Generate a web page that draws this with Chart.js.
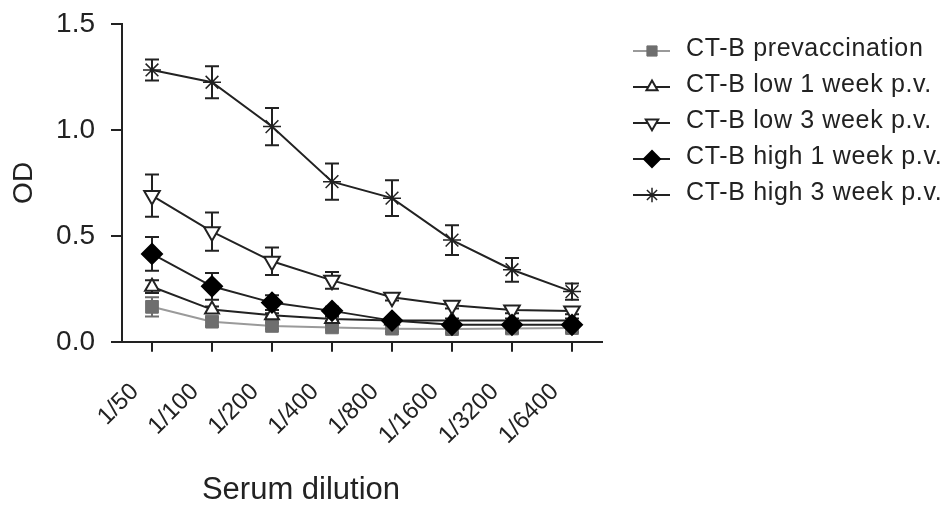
<!DOCTYPE html>
<html>
<head>
<meta charset="utf-8">
<script src="https://cdn.jsdelivr.net/npm/chart.js@4/dist/chart.umd.min.js"></script>
<style>
  body { margin: 0; background: #fff; }
  #wrap { width: 949px; height: 509px; }
</style>
</head>
<body>
<div id="wrap"><canvas id="myChart" width="949" height="509"></canvas></div>
<script>
const diluciones = ["1/50", "1/100", "1/200", "1/400", "1/800", "1/1600", "1/3200", "1/6400"];
const yTicks = [0, 0.5, 1.0, 1.5];

const prevac = [0.165, 0.095, 0.075, 0.068, 0.062, 0.060, 0.063, 0.065];
const prevacErr = [0.045, 0.02, 0.015, 0.01, 0.015, 0.02, 0.02, 0.02];
const low1 = [0.26, 0.152, 0.125, 0.108, 0.100, 0.100, 0.100, 0.100];
const low1Err = [0.03, 0.015, 0.01, 0.01, 0.01, 0.01, 0.01, 0.01];
const low3 = [0.69, 0.52, 0.38, 0.29, 0.21, 0.172, 0.15, 0.145];
const low3Err = [0.10, 0.09, 0.065, 0.04, 0.015, 0.015, 0.015, 0.015];
const high1 = [0.415, 0.262, 0.185, 0.146, 0.100, 0.080, 0.080, 0.080];
const high1Err = [0.08, 0.063, 0.035, 0.02, 0.015, 0.015, 0.015, 0.015];
const high3 = [1.283, 1.225, 1.016, 0.756, 0.678, 0.48, 0.34, 0.237];
const high3Err = [0.05, 0.076, 0.088, 0.085, 0.084, 0.07, 0.056, 0.038];

Chart.defaults.font.family = "'Liberation Sans', Arial, sans-serif";
Chart.defaults.color = "#222";

const ink = "#222";

function serie(label, data, err, estilo) {
    return Object.assign({
        label: label,
        data: data,
        err: err,
        tension: 0,
        borderWidth: 2,
        pointBorderWidth: 2,
        pointHoverRadius: 9
    }, estilo);
}

const datasets = [
    serie("CT-B prevaccination", prevac, prevacErr, {
        borderColor: "#9a9a9a", errColor: "#6e6e6e",
        pointStyle: "rect", pointRadius: 9,
        pointBackgroundColor: "#6e6e6e", pointBorderColor: "#6e6e6e", pointBorderWidth: 1,
        order: 5
    }),
    serie("CT-B low 1 week p.v.", low1, low1Err, {
        borderColor: ink, errColor: ink,
        pointStyle: "triangle", pointRadius: 8,
        pointBackgroundColor: "#fff", pointBorderColor: ink,
        order: 4
    }),
    serie("CT-B low 3 week p.v.", low3, low3Err, {
        borderColor: ink, errColor: ink,
        pointStyle: "triangle", pointRotation: 180, pointRadius: 9,
        pointBackgroundColor: "#fff", pointBorderColor: ink,
        order: 3
    }),
    serie("CT-B high 1 week p.v.", high1, high1Err, {
        borderColor: ink, errColor: ink,
        pointStyle: "rectRot", pointRadius: 10,
        pointBackgroundColor: "#000", pointBorderColor: "#000",
        order: 2
    }),
    serie("CT-B high 3 week p.v.", high3, high3Err, {
        borderColor: ink, errColor: ink,
        pointStyle: "star", pointRadius: 9,
        pointBackgroundColor: ink, pointBorderColor: ink, pointBorderWidth: 1.5,
        order: 1
    })
];

// barras de error con las escalas del grafico
const errorBars = {
    id: "errorBars",
    beforeDatasetsDraw(chart) {
        const ctx = chart.ctx;
        const x = chart.scales.x;
        const y = chart.scales.y;
        ctx.save();
        chart.data.datasets.forEach(ds => {
            ctx.strokeStyle = ds.errColor;
            ctx.lineWidth = 2;
            ds.data.forEach((v, i) => {
                const e = ds.err[i];
                const px = x.getPixelForValue(i);
                const top = y.getPixelForValue(v + e);
                const bot = y.getPixelForValue(v - e);
                ctx.beginPath();
                ctx.moveTo(px, top); ctx.lineTo(px, bot);
                ctx.moveTo(px - 7, top); ctx.lineTo(px + 7, top);
                ctx.moveTo(px - 7, bot); ctx.lineTo(px + 7, bot);
                ctx.stroke();
            });
        });
        ctx.restore();
    }
};

// leyenda a la derecha con linea y marcador
const leyenda = {
    id: "leyenda",
    afterDraw(chart) {
        const ctx = chart.ctx;
        const filas = [51, 87, 123, 159, 195];
        ctx.save();
        chart.data.datasets.forEach((ds, i) => {
            const yy = filas[i];
            ctx.strokeStyle = ds.borderColor;
            ctx.lineWidth = 2;
            ctx.beginPath();
            ctx.moveTo(633, yy); ctx.lineTo(670, yy);
            ctx.stroke();
            ctx.fillStyle = ds.pointBackgroundColor;
            ctx.strokeStyle = ds.pointBorderColor;
            ctx.lineWidth = ds.pointBorderWidth;
            Chart.helpers.drawPoint(ctx, {
                pointStyle: ds.pointStyle,
                radius: ds.pointRadius * 0.8,
                rotation: ds.pointRotation || 0,
                borderWidth: ds.pointBorderWidth
            }, 652, yy);
            ctx.fillStyle = ink;
            ctx.font = "25px 'Liberation Sans', Arial, sans-serif";
            ctx.letterSpacing = "0.65px";
            ctx.textBaseline = "alphabetic";
            ctx.textAlign = "left";
            ctx.fillText(ds.label, 686, yy + 5);
        });
        ctx.restore();
    }
};

const config = {
    type: "line",
    data: { labels: diluciones, datasets: datasets },
    plugins: [errorBars, leyenda],
    options: {
        responsive: false,
        animation: false,
        layout: { padding: { top: 24, right: 347, left: 0, bottom: 0 } },
        plugins: {
            legend: { display: false },
            tooltip: { enabled: false },
            title: {
                display: true,
                position: "bottom",
                text: "Serum dilution",
                color: ink,
                font: { size: 31, weight: "normal" },
                padding: { top: 0, bottom: 0 }
            }
        },
        scales: {
            x: {
                type: "category",
                offset: true,
                afterFit(scale) { scale.height = 130; },
                border: { color: ink, width: 2 },
                grid: { drawOnChartArea: false, offset: false, tickLength: 10, color: ink, lineWidth: 2 },
                ticks: {
                    autoSkip: false,
                    maxRotation: 45,
                    minRotation: 45,
                    padding: 26,
                    labelOffset: -17,
                    color: ink,
                    font: { size: 24 }
                }
            },
            y: {
                min: 0,
                max: 1.5,
                afterFit(scale) {
                    scale.width = 122;
                    scale.paddingTop = 0;
                    scale.paddingBottom = 0;
                },
                afterBuildTicks(scale) { scale.ticks = yTicks.map(v => ({ value: v })); },
                border: { color: ink, width: 2 },
                grid: { drawOnChartArea: false, tickLength: 11, color: ink, lineWidth: 2 },
                ticks: {
                    padding: 16,
                    color: ink,
                    font: { size: 28 },
                    callback: v => Number(v).toFixed(1)
                },
                title: {
                    display: true,
                    text: "OD",
                    color: ink,
                    font: { size: 28 },
                    padding: { top: 7, bottom: 0 }
                }
            }
        }
    }
};

new Chart(document.getElementById("myChart"), config);
</script>
</body>
</html>
